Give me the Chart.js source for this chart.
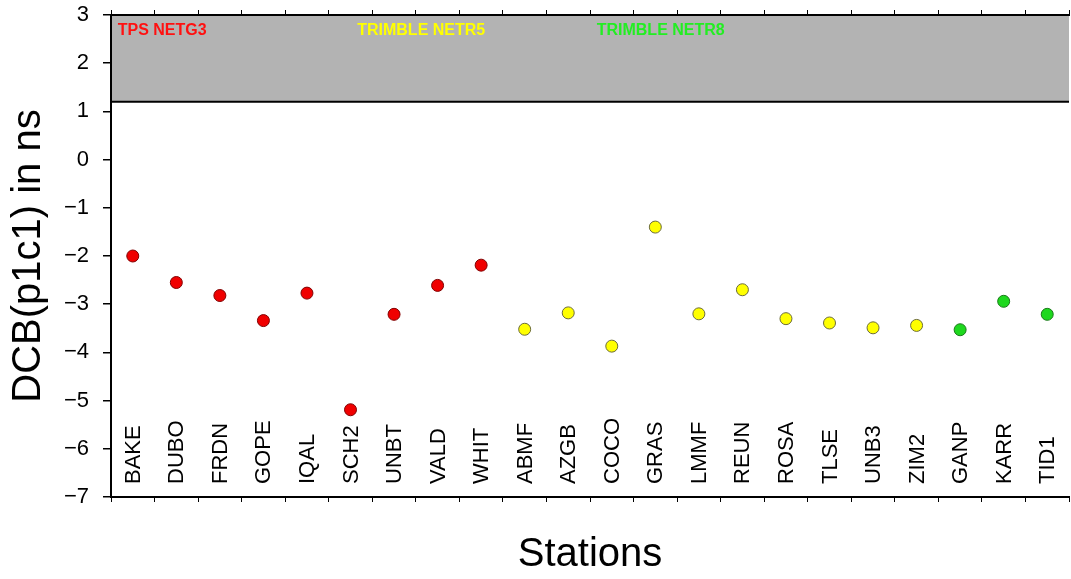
<!DOCTYPE html>
<html>
<head>
<meta charset="utf-8">
<script src="https://cdn.jsdelivr.net/npm/chart.js@4/dist/chart.umd.min.js"></script>
<style>
  html, body { margin: 0; padding: 0; background: #fff; overflow: hidden; }
  #wrap { width: 1071px; height: 579px; overflow: hidden; }
</style>
</head>
<body>
<div id="wrap"><canvas id="dcbChart" width="1076" height="579"></canvas></div>
<script>
const stations = ['BAKE', 'DUBO', 'FRDN', 'GOPE', 'IQAL', 'SCH2', 'UNBT', 'VALD', 'WHIT',
  'ABMF', 'AZGB', 'COCO', 'GRAS', 'LMMF', 'REUN', 'ROSA', 'TLSE', 'UNB3', 'ZIM2',
  'GANP', 'KARR', 'TID1'];
const dcbValues = [-2.0, -2.55, -2.82, -3.34, -2.77, -5.19, -3.21, -2.61, -2.19,
  -3.52, -3.18, -3.87, -1.40, -3.20, -2.70, -3.30, -3.39, -3.49, -3.44,
  -3.53, -2.94, -3.21];
// receiver group of each station (index into receiverNames)
const receiverGroup = [0, 0, 0, 0, 0, 0, 0, 0, 0,
  1, 1, 1, 1, 1, 1, 1, 1, 1, 1,
  2, 2, 2];
const receiverNames = ['TPS NETG3', 'TRIMBLE NETR5', 'TRIMBLE NETR8'];
const yTicks = [3, 2, 1, 0, -1, -2, -3, -4, -5, -6, -7];
const bandRange = [1.2, 3];

// styles
const FONT = "'Liberation Sans', Arial, Helvetica, sans-serif";
const groupFill = ['#f00000', '#ffff00', '#1ed81e'];
const groupBorder = ['#800000', '#6b6b3a', '#1a7a1a'];
const groupText = ['#ff1010', '#ffff00', '#22ee22'];
const groupTextPos = [0.007, 0.257, 0.507];

const bandPlugin = {
  id: 'band',
  beforeDraw(chart) {
    const { ctx, chartArea, scales } = chart;
    const yTop = scales.y.getPixelForValue(bandRange[1]);
    const yBot = scales.y.getPixelForValue(bandRange[0]);
    ctx.save();
    ctx.fillStyle = '#b3b3b3';
    ctx.fillRect(chartArea.left, yTop, chartArea.right - chartArea.left, yBot - yTop);
    ctx.restore();
  },
  afterDraw(chart) {
    const { ctx, chartArea, scales } = chart;
    const yBot = scales.y.getPixelForValue(bandRange[0]);
    ctx.save();
    ctx.strokeStyle = '#000';
    ctx.lineWidth = 2;
    ctx.beginPath();
    ctx.moveTo(chartArea.left, yBot);
    ctx.lineTo(chartArea.right, yBot);
    ctx.stroke();
    // receiver names in the band
    ctx.font = 'bold 16px ' + FONT;
    ctx.textBaseline = 'middle';
    ctx.textAlign = 'left';
    const w = chartArea.right - chartArea.left;
    receiverNames.forEach((name, i) => {
      ctx.fillStyle = groupText[i];
      ctx.fillText(name, chartArea.left + w * groupTextPos[i], scales.y.getPixelForValue(2.68));
    });
    ctx.restore();
  }
};

// station names written vertically inside the plot
const stationLabels = {
  id: 'stationLabels',
  afterDatasetsDraw(chart) {
    const { ctx, chartArea, scales } = chart;
    ctx.save();
    ctx.font = '22px ' + FONT;
    ctx.fillStyle = '#000';
    ctx.textAlign = 'left';
    ctx.textBaseline = 'middle';
    stations.forEach((s, i) => {
      const x = scales.x.getPixelForValue(i);
      ctx.save();
      ctx.translate(x + 1, chartArea.bottom - 13);
      ctx.rotate(-Math.PI / 2);
      ctx.fillText(s, 0, 0);
      ctx.restore();
    });
    ctx.restore();
  }
};

const xGrid = {
  offset: true,
  drawOnChartArea: false,
  tickLength: 5,
  color: '#000',
  lineWidth: 1
};

new Chart(document.getElementById('dcbChart'), {
  type: 'line',
  data: {
    labels: stations,
    datasets: [{
      label: 'DCB',
      data: dcbValues,
      showLine: false,
      pointRadius: 6,
      pointHoverRadius: 6,
      pointBorderWidth: 1,
      pointBackgroundColor: receiverGroup.map(g => groupFill[g]),
      pointBorderColor: receiverGroup.map(g => groupBorder[g])
    }]
  },
  options: {
    responsive: false,
    animation: false,
    layout: { padding: { left: 0, right: 1, top: 0, bottom: 0 } },
    plugins: {
      legend: { display: false },
      tooltip: { enabled: false }
    },
    scales: {
      x: {
        type: 'category',
        offset: true,
        ticks: { display: false },
        grid: xGrid,
        border: { color: '#000', width: 2 },
        title: {
          display: true,
          text: 'Stations',
          color: '#000',
          font: { family: FONT, size: 40 },
          padding: { top: 0, bottom: 0 }
        },
        afterFit(scale) { scale.height = 82; }
      },
      x2: {
        type: 'category',
        position: 'top',
        offset: true,
        ticks: { display: false },
        grid: xGrid,
        border: { color: '#000', width: 2 },
        afterFit(scale) { scale.height = 15; }
      },
      y: {
        min: yTicks[yTicks.length - 1],
        max: yTicks[0],
        afterBuildTicks(scale) { scale.ticks = yTicks.map(v => ({ value: v })); },
        ticks: {
          color: '#000',
          font: { family: FONT, size: 22 },
          padding: 14,
          callback: v => String(v).replace('-', '\u2212')
        },
        grid: { drawOnChartArea: false, tickLength: 8, color: '#000', lineWidth: 1.5 },
        border: { color: '#000', width: 2 },
        title: {
          display: true,
          text: 'DCB(p1c1) in ns',
          color: '#000',
          font: { family: FONT, size: 40 },
          padding: { top: 5, bottom: 0 }
        },
        afterFit(scale) {
          scale.width = 111;
          scale.paddingTop = 0;
          scale.paddingBottom = 0;
        }
      }
    }
  },
  plugins: [bandPlugin, stationLabels]
});
</script>
</body>
</html>
